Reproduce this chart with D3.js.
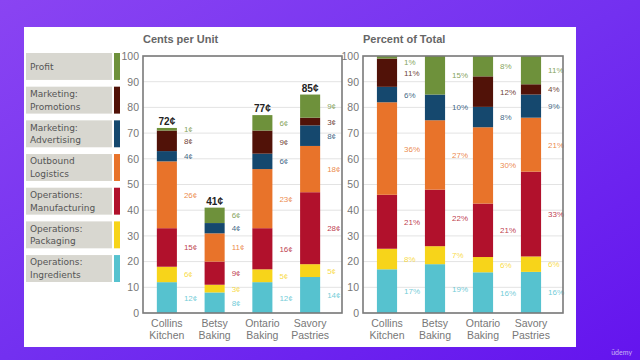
<!DOCTYPE html>
<html><head><meta charset="utf-8">
<script src="https://cdn.jsdelivr.net/npm/d3@7"></script>
<style>html,body{margin:0;padding:0;}svg{display:block;}</style>
</head><body>
<svg id="c" width="640" height="360"></svg>
<script>
const categories = [["Collins","Kitchen"],["Betsy","Baking"],["Ontario","Baking"],["Savory","Pastries"]];
const seriesNames = ["Operations: Ingredients","Operations: Packaging","Operations: Manufacturing","Outbound Logistics","Marketing: Advertising","Marketing: Promotions","Profit"];
const seriesColors = ["#56c2cf","#f7d41a","#b1112c","#e8732a","#15486e","#511208","#6e913b"];
// cents per unit, by series (bottom to top), per category
const ingredients   = [12, 8, 12, 14];
const packaging     = [6, 3, 5, 5];
const manufacturing = [15, 9, 16, 28];
const outbound      = [26, 11, 23, 18];
const advertising   = [4, 4, 6, 8];
const promotions    = [8, 0, 9, 3];
const profit        = [1, 6, 6, 9];
// percent of total
const pctIngredients   = [17, 19, 16, 16];
const pctPackaging     = [8, 7, 6, 6];
const pctManufacturing = [21, 22, 21, 33];
const pctOutbound      = [36, 27, 30, 21];
const pctAdvertising   = [6, 10, 8, 9];
const pctPromotions    = [11, 0, 12, 4];
const pctProfit        = [1, 15, 8, 11];
const yTicks = [0,10,20,30,40,50,60,70,80,90,100];

const centsSeries = [ingredients,packaging,manufacturing,outbound,advertising,promotions,profit];
const pctSeries = [pctIngredients,pctPackaging,pctManufacturing,pctOutbound,pctAdvertising,pctPromotions,pctProfit];
const legendOrder = [6,5,4,3,2,1,0];

const svg = d3.select("#c");
const defs = svg.append("defs");
const g = defs.append("linearGradient").attr("id","bg").attr("x1","0").attr("y1","0").attr("x2","1").attr("y2","1");
g.append("stop").attr("offset","0").attr("stop-color","#8a44f2");
g.append("stop").attr("offset","0.5").attr("stop-color","#7330f0");
g.append("stop").attr("offset","1").attr("stop-color","#6414ee");
svg.append("rect").attr("width",640).attr("height",360).attr("fill","url(#bg)");
svg.append("rect").attr("x",24).attr("y",27).attr("width",552).attr("height",320).attr("fill","#fff");
svg.append("text").attr("x",632).attr("y",355).attr("text-anchor","end").attr("font-family","Lato, sans-serif").attr("font-size",7).attr("fill","#c9b6f5").text("ūdemy");

// legend
const legY = d3.scaleBand().domain(legendOrder).range([53,282]).paddingInner(0.2);
legendOrder.forEach(i => {
  const y = legY(i), h = legY.bandwidth();
  svg.append("rect").attr("x",26).attr("y",y).attr("width",86).attr("height",h).attr("fill","#d8d7d0");
  svg.append("rect").attr("x",114).attr("y",y).attr("width",6).attr("height",h).attr("fill",seriesColors[i]);
  const s = seriesNames[i];
  const k = s.indexOf(" ");
  const parts = s === "Profit" ? [s] : [s.slice(0,k), s.slice(k+1)];
  const t = svg.append("text").attr("font-family","DejaVu Sans, sans-serif").attr("font-size",9).attr("fill","#555");
  parts.forEach((p,j) => t.append("tspan").attr("x",30).attr("y", y + h/2 + 3.2 + (j - (parts.length-1)/2)*12.5).text(p));
});

function drawChart(opts){
  const {x0, x1, frameRight, seriesData, title, fmt, expand, totals} = opts;
  const top = 56, bottom = 313;
  const y = d3.scaleLinear().domain([0,100]).range([bottom, top]);
  const x = d3.scaleBand().domain(d3.range(categories.length)).range([x0, x1]).paddingInner(0.58).paddingOuter(0.29);
  const rows = categories.map((c,ci) => { const r = {i:ci}; seriesData.forEach((s,si)=> r[si]=s[ci]); return r; });
  const stack = d3.stack().keys(d3.range(seriesData.length));
  if (expand) stack.offset(d3.stackOffsetExpand);
  const layers = stack(rows);
  const k = expand ? 100 : 1;
  const gc = svg.append("g");
  gc.append("g").selectAll("line").data(yTicks).join("line")
    .attr("x1",x0).attr("x2",frameRight).attr("y1",d=>y(d)).attr("y2",d=>y(d))
    .attr("stroke","#e3e3e3").attr("stroke-width",1);
  const ax = gc.append("g").attr("transform",`translate(${x0},0)`)
    .call(d3.axisLeft(y).tickValues(yTicks).tickSize(0).tickPadding(4));
  ax.select(".domain").remove();
  ax.selectAll("text").attr("font-family","Liberation Sans, Arial, sans-serif").attr("font-size",10.5).attr("fill","#777");
  layers.forEach((L,si) => {
    gc.append("g").selectAll("rect").data(L.filter(d=>d[1]-d[0]>0)).join("rect")
      .attr("x",d=>x(d.data.i)).attr("width",x.bandwidth())
      .attr("y",d=>y(d[1]*k)).attr("height",d=>y(d[0]*k)-y(d[1]*k))
      .attr("fill",seriesColors[si]);
  });
  categories.forEach((c,ci) => {
    let minY = top + 6;
    for (let si = seriesData.length-1; si >= 0; si--) {
      const v = seriesData[si][ci];
      if (!v) continue;
      const d = layers[si][ci];
      let ly = y((d[0]+d[1])/2*k);
      if (ly < minY) ly = minY;
      minY = ly + 9;
      gc.append("text").attr("x", x(ci)+x.bandwidth()+7).attr("y", ly+3)
        .attr("font-family","Liberation Sans, Arial, sans-serif").attr("font-size",8)
        .attr("fill",seriesColors[si]).attr("fill-opacity",0.85).text(fmt(v));
    }
    if (totals) {
      const tot = d3.sum(seriesData, s=>s[ci]);
      gc.append("text").attr("x", x(ci)+x.bandwidth()/2).attr("y", y(tot)-3).attr("text-anchor","middle")
        .attr("font-family","Liberation Sans, Arial, sans-serif").attr("font-size",10).attr("font-weight","bold")
        .attr("fill","#222").text(tot+"¢");
    }
  });
  gc.append("rect").attr("x",x0).attr("y",top).attr("width",frameRight-x0).attr("height",bottom-top)
    .attr("fill","none").attr("stroke","#7a7a7a").attr("stroke-width",1.6);
  categories.forEach((c,ci) => {
    const t = gc.append("text").attr("text-anchor","middle").attr("font-family","Liberation Sans, Arial, sans-serif")
      .attr("font-size",10.5).attr("fill","#777");
    c.forEach((p,j)=> t.append("tspan").attr("x",x(ci)+x.bandwidth()/2).attr("y",327+j*12).text(p));
  });
  gc.append("text").attr("x",x0).attr("y",43).attr("font-family","Liberation Sans, Arial, sans-serif")
    .attr("font-size",11).attr("font-weight","bold").attr("fill","#666").text(title);
}

drawChart({x0:143, x1:334, frameRight:342, seriesData:centsSeries, title:"Cents per Unit", fmt:v=>v+"¢", expand:false, totals:true});
drawChart({x0:363, x1:555, frameRight:563, seriesData:pctSeries, title:"Percent of Total", fmt:v=>v+"%", expand:true, totals:false});
</script>
</body></html>
